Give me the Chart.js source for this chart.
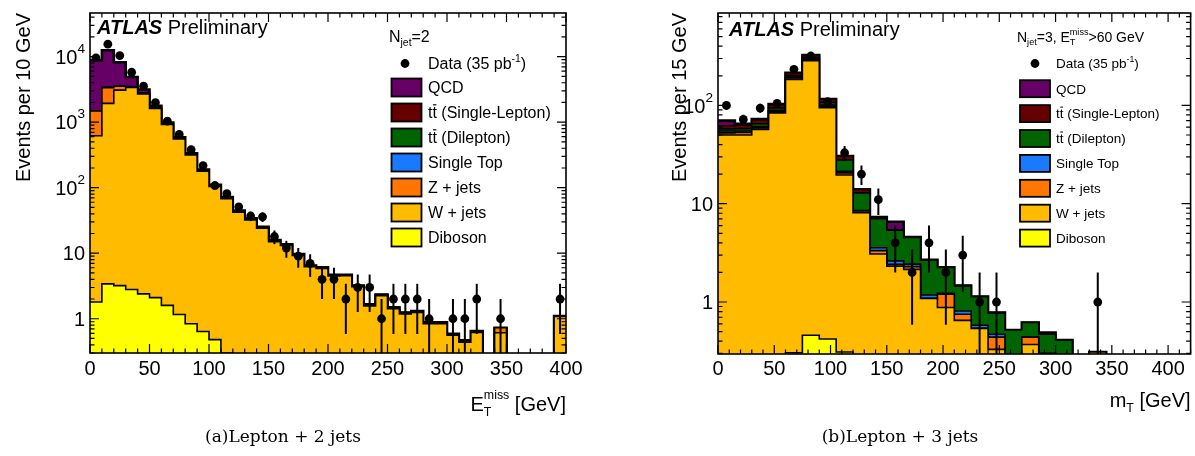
<!DOCTYPE html>
<html>
<head>
<meta charset="utf-8">
<script src="https://cdn.jsdelivr.net/npm/chart.js@4.4.1/dist/chart.umd.min.js"></script>
<style>
  html, body { margin: 0; padding: 0; background: #fff; }
  #wrap { position: relative; width: 1195px; height: 456px; overflow: hidden; }
  canvas { position: absolute; left: 0; top: 0; }
  .caption { position: absolute; top: 426px; font-family: "DejaVu Serif", serif; font-size: 17px; color: #000; white-space: nowrap; transform: translateX(-50%); }
</style>
</head>
<body>
<div id="wrap">
  <canvas id="chartL" width="1195" height="456"></canvas>
  <canvas id="chartR" width="1195" height="456"></canvas>
  <div class="caption" style="left:283px">(a)Lepton + 2 jets</div>
  <div class="caption" style="left:900px">(b)Lepton + 3 jets</div>
</div>
<script>
// ---- données : panneau (a) E_T^miss, N_jet = 2, bins de 10 GeV ----
const edgesL = [0, 10, 20, 30, 40, 50, 60, 70, 80, 90, 100, 110, 120, 130, 140, 150, 160, 170, 180, 190, 200,
  210, 220, 230, 240, 250, 260, 270, 280, 290, 300, 310, 320, 330, 340, 350, 360, 370, 380, 390, 400];

const dibosonL = [1.8, 3.4, 3.2, 2.8, 2.4, 2.1, 1.6, 1.16, 0.84, 0.64,
  0.48, 0.3, 0.25, 0.2, 0.16, 0.12, 0.1, 0.08, 0.06, 0.05,
  0.04, 0.03, 0.03, 0.02, 0.02, 0.02, 0.01, 0.01, 0.01, 0.01,
  0.01, 0, 0, 0, 0, 0, 0, 0, 0, 0];
const wjetsL = [618, 1937, 3087, 3400, 2700, 1622, 918, 555, 316, 178,
  104, 67.7, 42, 32, 23.9, 14.9, 13.0, 9.2, 6.15, 5.8,
  4.47, 4.52, 3.06, 1.55, 2.23, 1.4, 1.17, 1.24, 0.83, 0.83,
  0.55, 0.44, 0.62, 0, 0.61, 0, 0, 0, 0, 1.08];
const zjetsL = [860, 1430, 460, 70, 50, 30, 18, 10, 6, 3.5,
  2, 1.3, 0.8, 0.5, 0.4, 0.3, 0.2, 0.15, 0.1, 0.1,
  0.08, 0.06, 0.05, 0.04, 0.04, 0.03, 0.03, 0.03, 0.02, 0.02,
  0.02, 0.02, 0.02, 0, 0.12, 0, 0, 0, 0, 0.02];
const stopL = [3, 6, 7, 7, 6, 5, 3.5, 2.5, 1.6, 1.0,
  0.6, 0.4, 0.3, 0.2, 0.15, 0.1, 0.08, 0.06, 0.04, 0.03,
  0.02, 0.02, 0.01, 0.01, 0.01, 0.01, 0.01, 0.01, 0, 0,
  0, 0, 0, 0, 0, 0, 0, 0, 0, 0];
const ttDiL = [0.5, 1, 1.5, 2, 2, 2, 1.8, 1.5, 1.2, 0.9,
  0.7, 0.5, 0.4, 0.3, 0.2, 0.15, 0.1, 0.08, 0.06, 0.05,
  0.04, 0.03, 0.02, 0.02, 0.01, 0.01, 0.01, 0.01, 0.01, 0.01,
  0, 0, 0, 0, 0, 0, 0, 0, 0, 0];
const ttSemiL = [2, 5, 8, 10, 10, 9, 7, 5, 3.5, 2.5,
  1.6, 1.0, 0.7, 0.5, 0.35, 0.25, 0.18, 0.12, 0.08, 0.06,
  0.05, 0.04, 0.03, 0.02, 0.02, 0.02, 0.01, 0.01, 0.01, 0.01,
  0.01, 0.01, 0.01, 0, 0, 0, 0, 0, 0, 0];
const qcdL = [7314, 9118, 4633, 1411, 392, 110, 40, 15, 6, 3,
  1.5, 0.8, 0.5, 0.3, 0.2, 0.1, 0, 0, 0, 0,
  0, 0, 0, 0, 0, 0, 0, 0, 0, 0,
  0, 0, 0, 0, 0, 0, 0, 0, 0, 0];
const dataL = [9600, 15500, 10400, 5780, 3550, 1990, 1040, 650, 380, 218,
  108, 81, 51, 37, 36, 18, 12, 9, 7, 4,
  4, 2, 3, 3, 1, 2, 2, 2, 1, 0,
  1, 1, 2, 0, 1, 0, 0, 0, 0, 2];

// ---- données : panneau (b) m_T, N_jet = 3, bins de 15 GeV ----
const edgesR = [0, 15, 30, 45, 60, 75, 90, 105, 120, 135, 150, 165, 180, 195, 210,
  225, 240, 255, 270, 285, 300, 315, 330, 345, 360, 375, 390, 405, 420];

const dibosonR = [0.2, 0.2, 0.22, 0.25, 0.305, 0.46, 0.42, 0.31, 0.25, 0.2,
  0.15, 0.1, 0.08, 0.06, 0.05, 0.04, 0.03, 0.02, 0.02, 0.01,
  0.01, 0, 0, 0, 0, 0, 0, 0];
const wjetsR = [49.8, 49.8, 56.8, 83.7, 183.7, 284.5, 94.6, 19.3, 7.85, 2.88,
  2.17, 2.05, 1.01, 0.82, 0.6, 0.5, 0.3, 0.18, 0.35, 0.29,
  0.19, 0, 0.31, 0, 0, 0, 0, 0];
const zjetsR = [2.5, 3, 2, 3, 6, 9, 3, 1.0, 0.1, 0.25,
  0.1, 0.14, 0, 0.32, 0.1, 0, 0.11, 0.02, 0.07, 0,
  0, 0, 0, 0, 0, 0, 0, 0];
const stopR = [2.5, 2, 2, 2, 4, 6, 3, 0.8, 0.3, 0.24,
  0.2, 0.14, 0.09, 0.03, 0.06, 0.04, 0.03, 0, 0, 0,
  0, 0, 0, 0, 0, 0, 0, 0];
const ttDiR = [2.5, 3, 4, 5, 7, 9, 6, 6.4, 4.4, 3.45,
  2.75, 2.12, 1.49, 1.02, 0.65, 0.55, 0.30, 0.3, 0.18, 0.17,
  0.21, 0, 0, 0, 0, 0, 0, 0];
const ttSemiR = [4.5, 5, 6, 8, 14, 17, 9, 2.8, 1.1, 0.28,
  0.03, 0.02, 0.02, 0.01, 0.01, 0.01, 0.01, 0, 0, 0,
  0, 0, 0, 0, 0, 0, 0, 0];
const qcdR = [8, 2, 1.5, 1, 0, 0, 0, 0, 0, 0,
  1.16, 0, 0, 0, 0, 0, 0, 0, 0, 0.02,
  0, 0, 0, 0, 0, 0, 0, 0];
const dataR = [100, 72, 94, 105, 233, 318, 109, 33, 20, 11,
  4, 2, 4, 2, 3, 1, 1, 0, 0, 0,
  0, 0, 1, 0, 0, 0, 0, 0];

// processus, du bas vers le haut de la pile
const processNames = ['Diboson', 'W + jets', 'Z + jets', 'Single Top', 'tt\u0304 (Dilepton)', 'tt\u0304 (Single-Lepton)', 'QCD'];
const processColors = ['#ffff00', '#ffbb00', '#ff7700', '#1a7aff', '#006400', '#660000', '#660066'];

// graduations
const xTicks = [0, 50, 100, 150, 200, 250, 300, 350, 400];
const yTicksL = [1, 10, 100, 1000, 10000];
const yTicksR = [1, 10, 100];

const FONT = '"Liberation Sans", Arial, Helvetica, sans-serif';
const font = (size, style) => `${style || ''} ${size}px ${FONT}`;

// texte avec exposants / indices / barre (tt̄)
function drawRich(ctx, parts, x, y, size, align, opt) {
  const o = Object.assign({ small: 0.65, rise: 0.5, drop: 0.25 }, opt || {});
  const sm = size * o.small;
  const segs = parts.map(p => {
    if (p.sup !== undefined || p.sub !== undefined) {
      ctx.font = font(sm);
      const w = Math.max(p.sup ? ctx.measureText(p.sup).width : 0, p.sub ? ctx.measureText(p.sub).width : 0);
      return { p, w };
    }
    ctx.font = font(size, p.style);
    return { p, w: ctx.measureText(p.t).width };
  });
  const total = segs.reduce((s, q) => s + q.w, 0);
  let cx = align === 'right' ? x - total : align === 'center' ? x - total / 2 : x;
  ctx.textAlign = 'left';
  ctx.textBaseline = 'alphabetic';
  ctx.fillStyle = '#000';
  segs.forEach(({ p, w }) => {
    if (p.sup !== undefined || p.sub !== undefined) {
      ctx.font = font(sm);
      if (p.sup) ctx.fillText(p.sup, cx, y - size * o.rise);
      if (p.sub) ctx.fillText(p.sub, cx, y + size * o.drop);
    } else {
      ctx.font = font(size, p.style);
      ctx.fillText(p.t, cx, y);
      if (p.bar) {
        ctx.beginPath();
        ctx.lineWidth = Math.max(1, size / 14);
        ctx.strokeStyle = '#000';
        ctx.moveTo(cx + 0.5, y - size * 0.84);
        ctx.lineTo(cx + w - 0.5, y - size * 0.84);
        ctx.stroke();
      }
    }
    cx += w;
  });
  return total;
}

function labelParts(name) {
  if (name.startsWith('tt\u0304')) return [{ t: 't' }, { t: 't', bar: true }, { t: name.slice(3) }];
  return [{ t: name }];
}

function yLabelParts(v) {
  if (v < 100) return [{ t: String(v) }];
  return [{ t: '10' }, { sup: String(Math.round(Math.log10(v))) }];
}

// pile cumulée -> une courbe en escalier remplie par processus
function buildStack(edges, comps) {
  const cum = new Array(edges.length - 1).fill(0);
  return comps.map((vals, k) => {
    const tops = vals.map((v, i) => (cum[i] += v));
    const pts = tops.map((v, i) => ({ x: edges[i], y: Math.max(v, 1e-3) }));
    pts.push({ x: edges[edges.length - 1], y: Math.max(tops[tops.length - 1], 1e-3) });
    const isTop = k === comps.length - 1;
    return {
      type: 'line',
      label: processNames[k],
      data: pts,
      stepped: true,
      fill: 'start',
      backgroundColor: processColors[k],
      borderColor: '#000',
      borderWidth: isTop ? 2.6 : 1.6,
      pointRadius: 0,
      order: 10 + k
    };
  });
}

function dataPoints(edges, counts) {
  const pts = [];
  counts.forEach((n, i) => {
    if (n > 0) pts.push({ x: (edges[i] + edges[i + 1]) / 2, y: n });
  });
  return {
    type: 'line',
    label: 'Data',
    data: pts,
    showLine: false,
    pointRadius: 4.4,
    pointBackgroundColor: '#000',
    pointBorderColor: '#000',
    pointBorderWidth: 0,
    order: 0
  };
}

const decor = {
  id: 'decor',
  afterDatasetsDraw(chart, args, o) {
    const { ctx, chartArea: a, scales: { x, y } } = chart;
    // barres d'erreur poissoniennes
    ctx.save();
    ctx.beginPath();
    ctx.rect(a.left, a.top, a.right - a.left, a.bottom - a.top);
    ctx.clip();
    ctx.strokeStyle = '#000';
    ctx.lineWidth = 2;
    o.counts.forEach((n, i) => {
      if (n <= 0) return;
      const e = Math.sqrt(n);
      const px = x.getPixelForValue((o.edges[i] + o.edges[i + 1]) / 2);
      const top = y.getPixelForValue(n + e);
      const bot = n - e > 0 ? y.getPixelForValue(n - e) : a.bottom;
      ctx.beginPath();
      ctx.moveTo(px, top);
      ctx.lineTo(px, bot);
      ctx.stroke();
    });
    ctx.restore();
  },
  afterDraw(chart, args, o) {
    const { ctx, chartArea: a, scales: { x, y } } = chart;
    ctx.save();

    // cadre
    ctx.strokeStyle = '#000';
    ctx.lineWidth = 1.6;
    ctx.strokeRect(a.left, a.top, a.right - a.left, a.bottom - a.top);

    // graduations vers l'intérieur, sur les 4 côtés
    ctx.lineWidth = 1.2;
    ctx.beginPath();
    for (let v = 0; v <= x.max + 1e-6; v += o.xMinorStep) {
      const len = xTicks.includes(v) ? 9 : 4.5;
      const px = x.getPixelForValue(v);
      ctx.moveTo(px, a.bottom); ctx.lineTo(px, a.bottom - len);
      ctx.moveTo(px, a.top); ctx.lineTo(px, a.top + len);
    }
    for (let d = 0.1; d <= y.max; d *= 10) {
      for (let k = 1; k <= 9; k++) {
        const v = k * d;
        if (v < y.min || v > y.max) continue;
        const len = k === 1 ? 9 : 4.5;
        const py = y.getPixelForValue(v);
        ctx.moveTo(a.left, py); ctx.lineTo(a.left + len, py);
        ctx.moveTo(a.right, py); ctx.lineTo(a.right - len, py);
      }
    }
    ctx.stroke();

    // étiquettes des axes
    ctx.fillStyle = '#000';
    ctx.font = font(o.tickSize);
    ctx.textAlign = 'center';
    ctx.textBaseline = 'alphabetic';
    xTicks.forEach(v => {
      ctx.fillText(String(v), x.getPixelForValue(v), a.bottom + o.xLabelDy);
    });
    o.yTicks.forEach(v => {
      drawRich(ctx, yLabelParts(v), a.left - 5, y.getPixelForValue(v) + o.tickSize * 0.36, o.tickSize, 'right',
        { small: 0.68, rise: 0.55 });
    });

    // titres des axes
    ctx.save();
    ctx.translate(o.yTitleX, a.top);
    ctx.rotate(-Math.PI / 2);
    ctx.font = font(o.tickSize);
    ctx.textAlign = 'right';
    ctx.fillText(o.yTitle, 0, 0);
    ctx.restore();
    drawRich(ctx, o.xTitle, a.right, o.xTitleY, o.tickSize, 'right', { small: 0.62, rise: 0.58, drop: 0.25 });

    // ATLAS Preliminary
    const wA = drawRich(ctx, [{ t: 'ATLAS', style: 'italic bold' }], o.atlasX, o.atlasY, 20, 'left');
    drawRich(ctx, [{ t: ' Preliminary' }], o.atlasX + wA, o.atlasY, 20, 'left');

    // légende
    const L = o.legend;
    drawRich(ctx, L.header, L.headerX, L.headerY, L.headerSize, 'left', { small: 0.65, rise: 0.5, drop: 0.28 });
    ctx.fillStyle = '#000';
    ctx.beginPath();
    ctx.arc(L.markerX, L.dataY, 4.4, 0, Math.PI * 2);
    ctx.fill();
    drawRich(ctx, [{ t: 'Data (35 pb' }, { sup: '-1' }, { t: ')' }], L.textX, L.dataY + L.size * 0.36, L.size, 'left',
      { small: 0.65, rise: 0.45 });
    const order = processNames.map((n, i) => i).reverse();
    order.forEach((k, r) => {
      const cy = L.rowY + r * L.rowStep;
      ctx.fillStyle = processColors[k];
      ctx.fillRect(L.boxX, cy - L.boxH / 2, L.boxW, L.boxH);
      ctx.strokeStyle = '#000';
      ctx.lineWidth = 1.8;
      ctx.strokeRect(L.boxX, cy - L.boxH / 2, L.boxW, L.boxH);
      drawRich(ctx, labelParts(processNames[k]), L.textX, cy + L.size * 0.36, L.size, 'left');
    });

    ctx.restore();
  }
};

function makeChart(id, edges, comps, counts, cfg) {
  return new Chart(document.getElementById(id), {
    type: 'line',
    data: { datasets: [...buildStack(edges, comps), dataPoints(edges, counts)] },
    options: {
      responsive: false,
      animation: false,
      devicePixelRatio: 1,
      layout: { padding: cfg.padding },
      scales: {
        x: { type: 'linear', min: 0, max: cfg.xMax, display: false },
        y: { type: 'logarithmic', min: cfg.yMin, max: cfg.yMax, display: false }
      },
      plugins: {
        legend: { display: false },
        tooltip: { enabled: false },
        decor: Object.assign({ edges, counts }, cfg.decor)
      }
    },
    plugins: [decor]
  });
}

makeChart('chartL', edgesL, [dibosonL, wjetsL, zjetsL, stopL, ttDiL, ttSemiL, qcdL], dataL, {
  padding: { left: 90, right: 1195 - 566, top: 13, bottom: 456 - 353 },
  xMax: 400, yMin: 0.327, yMax: 46400,
  decor: {
    xMinorStep: 10, tickSize: 20, xLabelDy: 22, yTicks: yTicksL,
    yTitle: 'Events per 10 GeV', yTitleX: 30,
    xTitle: [{ t: 'E' }, { sub: 'T', sup: 'miss' }, { t: ' [GeV]' }], xTitleY: 411,
    atlasX: 97, atlasY: 34,
    legend: {
      header: [{ t: 'N' }, { sub: 'jet' }, { t: '=2' }], headerX: 389, headerY: 42, headerSize: 16,
      markerX: 405, dataY: 63.5, textX: 428, size: 16,
      boxX: 391.5, boxW: 30, boxH: 18, rowY: 87.5, rowStep: 25
    }
  }
});

makeChart('chartR', edgesR, [dibosonR, wjetsR, zjetsR, stopR, ttDiR, ttSemiR, qcdR], dataR, {
  padding: { left: 718, right: 2, top: 13, bottom: 456 - 354 },
  xMax: 420, yMin: 0.296, yMax: 871,
  decor: {
    xMinorStep: 10, tickSize: 20, xLabelDy: 21, yTicks: yTicksR,
    yTitle: 'Events per 15 GeV', yTitleX: 686,
    xTitle: [{ t: 'm' }, { sub: 'T' }, { t: ' [GeV]' }], xTitleY: 407,
    atlasX: 729, atlasY: 36,
    legend: {
      header: [{ t: 'N' }, { sub: 'jet' }, { t: '=3, E' }, { sub: 'T', sup: 'miss' }, { t: '>60 GeV' }],
      headerX: 1017, headerY: 41.5, headerSize: 14,
      markerX: 1035, dataY: 63.5, textX: 1056, size: 13.5,
      boxX: 1020, boxW: 30, boxH: 17, rowY: 88.7, rowStep: 24.9
    }
  }
});
</script>
</body>
</html>
